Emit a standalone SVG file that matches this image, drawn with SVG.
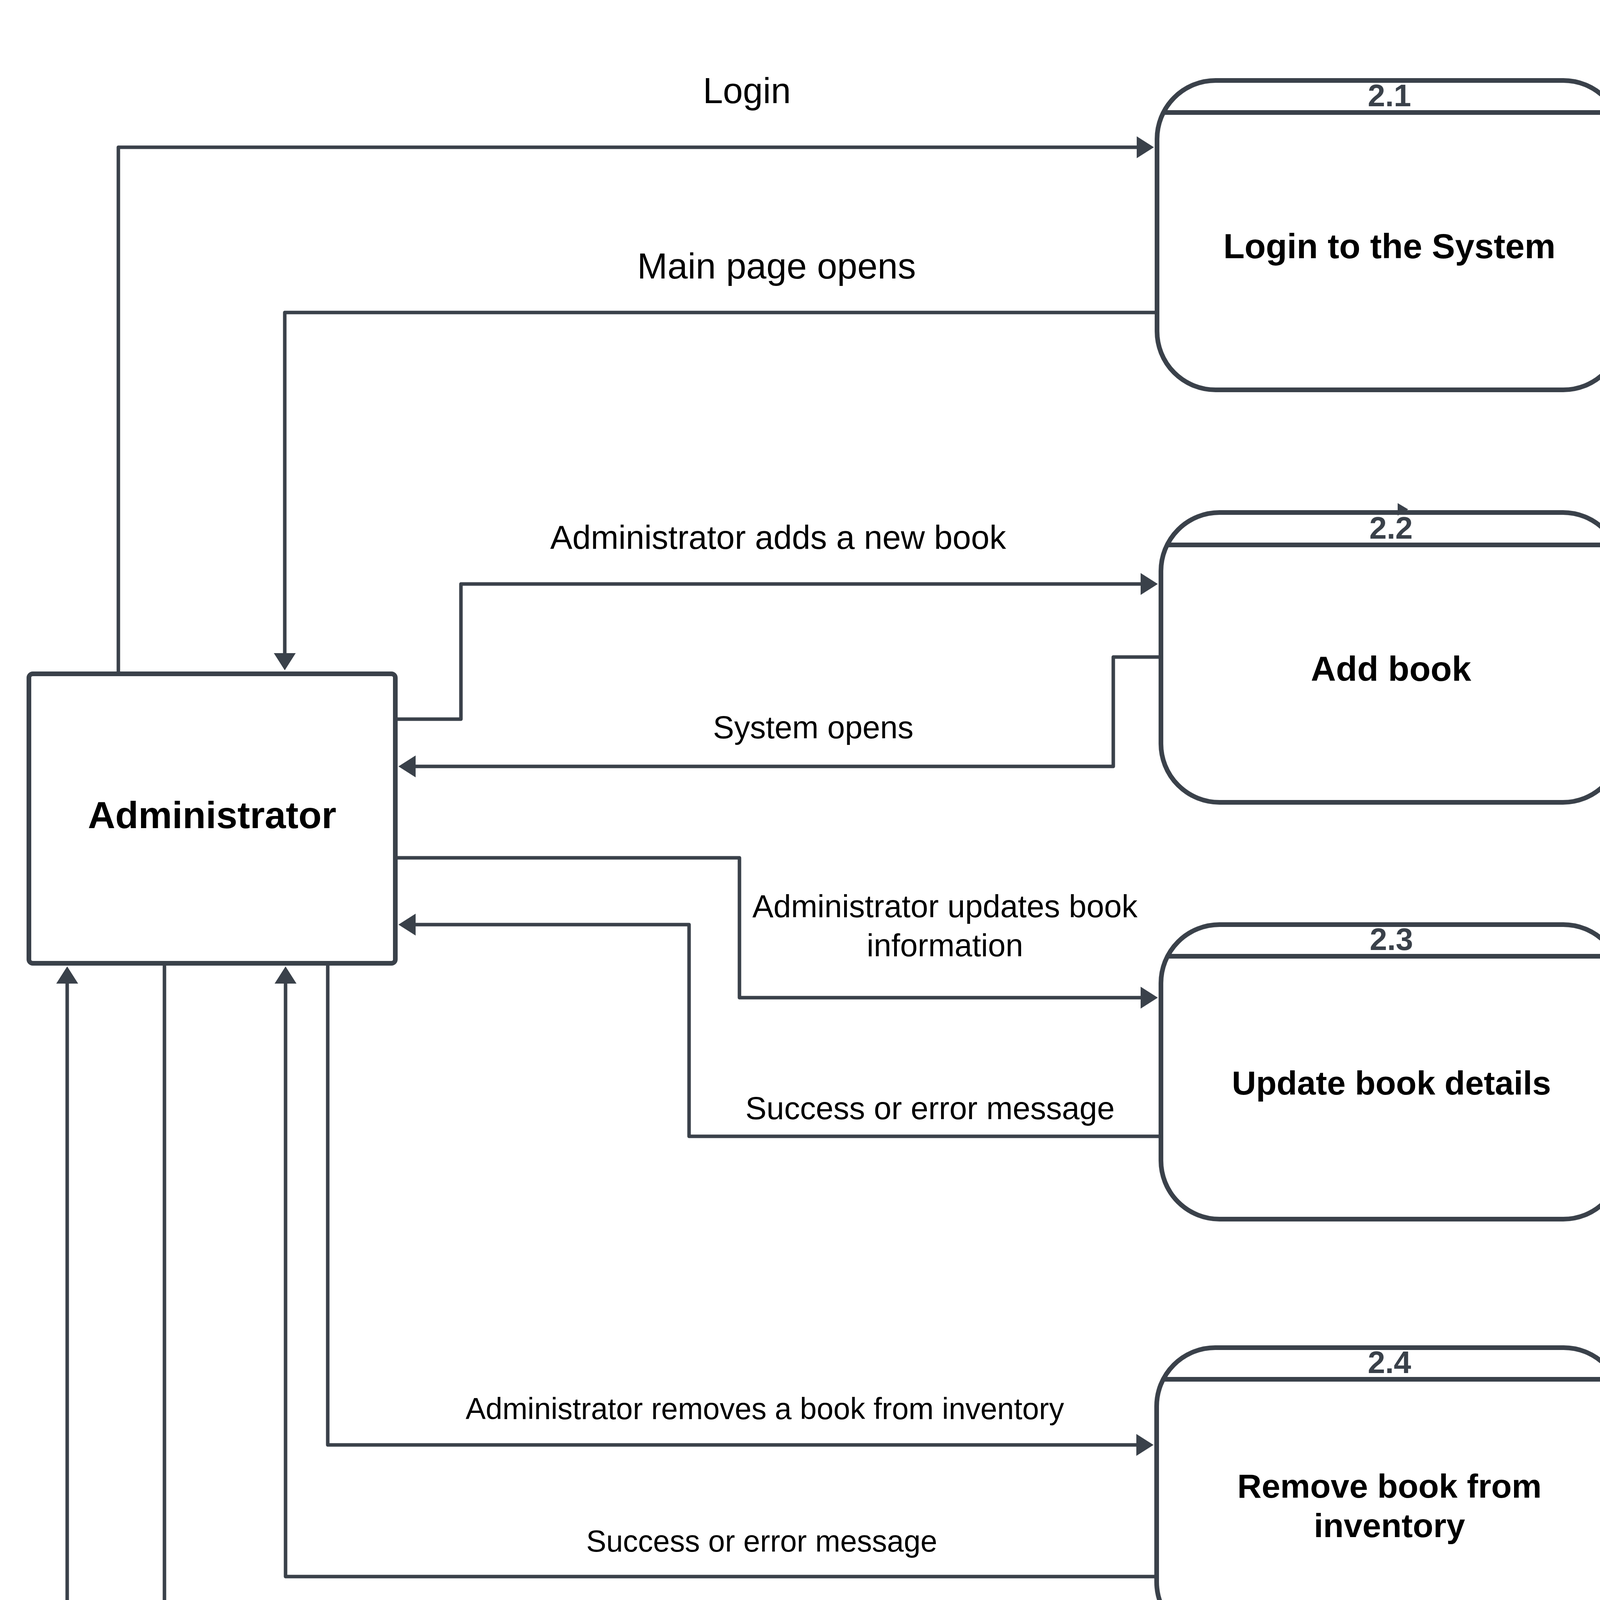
<svg xmlns="http://www.w3.org/2000/svg" width="4238" height="5288" viewBox="0 0 4238 5288">
<style>
.bg{fill:#ffffff}
.node{fill:#ffffff;stroke:#3a414a;stroke-width:12}
.hdr{stroke:#3a414a;stroke-width:12}
.num{font-family:"Liberation Sans",Arial,sans-serif;font-weight:bold;font-size:80px;fill:#3a414a;text-anchor:middle}
.title{font-family:"Liberation Sans",Arial,sans-serif;font-weight:bold;fill:#000000;text-anchor:middle}
.conn{fill:none;stroke:#3a414a;stroke-width:9;stroke-linejoin:round}
.lbl{font-family:"Liberation Sans",Arial,sans-serif;fill:#000000;text-anchor:middle}
</style>
<defs>
<marker id="arr" markerUnits="userSpaceOnUse" markerWidth="44" markerHeight="56" refX="24" refY="28" orient="auto">
<path d="M0,0 L44,28 L0,56 Z" fill="#3a414a"/>
</marker>
</defs>
<rect class="bg" x="0" y="0" width="4238" height="5288"/>

<g id="node-admin">
<rect class="node" x="74" y="1725" width="938" height="741" rx="10" ry="10"/>
<text class="title" x="543" y="2120" font-size="97">Administrator</text>
</g>

<g id="node-2-1">
<rect class="node" x="2962" y="206" width="1190" height="792" rx="150" ry="150"/>
<line class="hdr" x1="2979" y1="288" x2="4135" y2="288"/>
<text class="num" x="3557" y="272">2.1</text>
<text class="title" x="3557" y="661" font-size="89">Login to the System</text>
</g>

<g id="node-2-2">
<rect class="node" x="2972" y="1312" width="1179" height="742" rx="150" ry="150"/>
<line class="hdr" x1="2989" y1="1395" x2="4134" y2="1395"/>
<text class="num" x="3561" y="1379">2.2</text>
<text class="title" x="3561" y="1743" font-size="89">Add book</text>
</g>

<g id="node-2-3">
<rect class="node" x="2972" y="2367" width="1180" height="754" rx="150" ry="150"/>
<line class="hdr" x1="2989" y1="2448" x2="4135" y2="2448"/>
<text class="num" x="3562" y="2432">2.3</text>
<text class="title" x="3562" y="2802" font-size="86">Update book details</text>
</g>

<g id="node-2-4">
<rect class="node" x="2961" y="3450" width="1192" height="750" rx="150" ry="150"/>
<line class="hdr" x1="2978" y1="3531" x2="4136" y2="3531"/>
<text class="num" x="3557" y="3515">2.4</text>
<text class="title" x="3557" y="3834" font-size="86">Remove book from</text>
<text class="title" x="3557" y="3935" font-size="86">inventory</text>
</g>

<g id="node-2-5">
<rect class="node" x="2971" y="4461" width="1193" height="752" rx="150" ry="150"/>
<line class="hdr" x1="2988" y1="4542" x2="4147" y2="4542"/>
<text class="num" x="3567" y="4526">2.5</text>
<text class="title" x="3567" y="4896" font-size="84">Logout</text>
</g>

<g id="connectors">
<path class="conn" d="M303,1725 V377 H2934" marker-end="url(#arr)"/>
<path class="conn" d="M2962,800 H729 V1696" marker-end="url(#arr)"/>
<path class="conn" d="M1012,1841 H1180 V1495 H2944" marker-end="url(#arr)"/>
<path class="conn" d="M2972,1682 H2850 V1962 H1040" marker-end="url(#arr)"/>
<path class="conn" d="M1012,2196 H1893 V2554 H2944" marker-end="url(#arr)"/>
<path class="conn" d="M2972,2909 H1764 V2367 H1040" marker-end="url(#arr)"/>
<path class="conn" d="M839,2466 V3699 H2933" marker-end="url(#arr)"/>
<path class="conn" d="M2961,4036 H731 V2494" marker-end="url(#arr)"/>
<path class="conn" d="M421,2466 V4679 H2943" marker-end="url(#arr)"/>
<path class="conn" d="M2971,4975 H172 V2494" marker-end="url(#arr)"/>
<polygon points="3578,1288 3605,1304 3578,1320" fill="#3a414a"/>
<text class="lbl" x="1912" y="264" font-size="92">Login</text>
<text class="lbl" x="1988" y="713" font-size="93">Main page opens</text>
<text class="lbl" x="1992" y="1405" font-size="85">Administrator adds a new book</text>
<text class="lbl" x="2082" y="1890" font-size="81">System opens</text>
<text class="lbl" x="2419" y="2348" font-size="81">Administrator updates book</text>
<text class="lbl" x="2419" y="2448" font-size="81">information</text>
<text class="lbl" x="2381" y="2865" font-size="81">Success or error message</text>
<text class="lbl" x="1958" y="3633" font-size="77">Administrator removes a book from inventory</text>
<text class="lbl" x="1950" y="3972" font-size="77">Success or error message</text>
<text class="lbl" x="1445" y="4592" font-size="77">Administrator clicks on "Logout" button</text>
<text class="lbl" x="1434" y="4929" font-size="77">Confirmation message</text>
</g>
</svg>
